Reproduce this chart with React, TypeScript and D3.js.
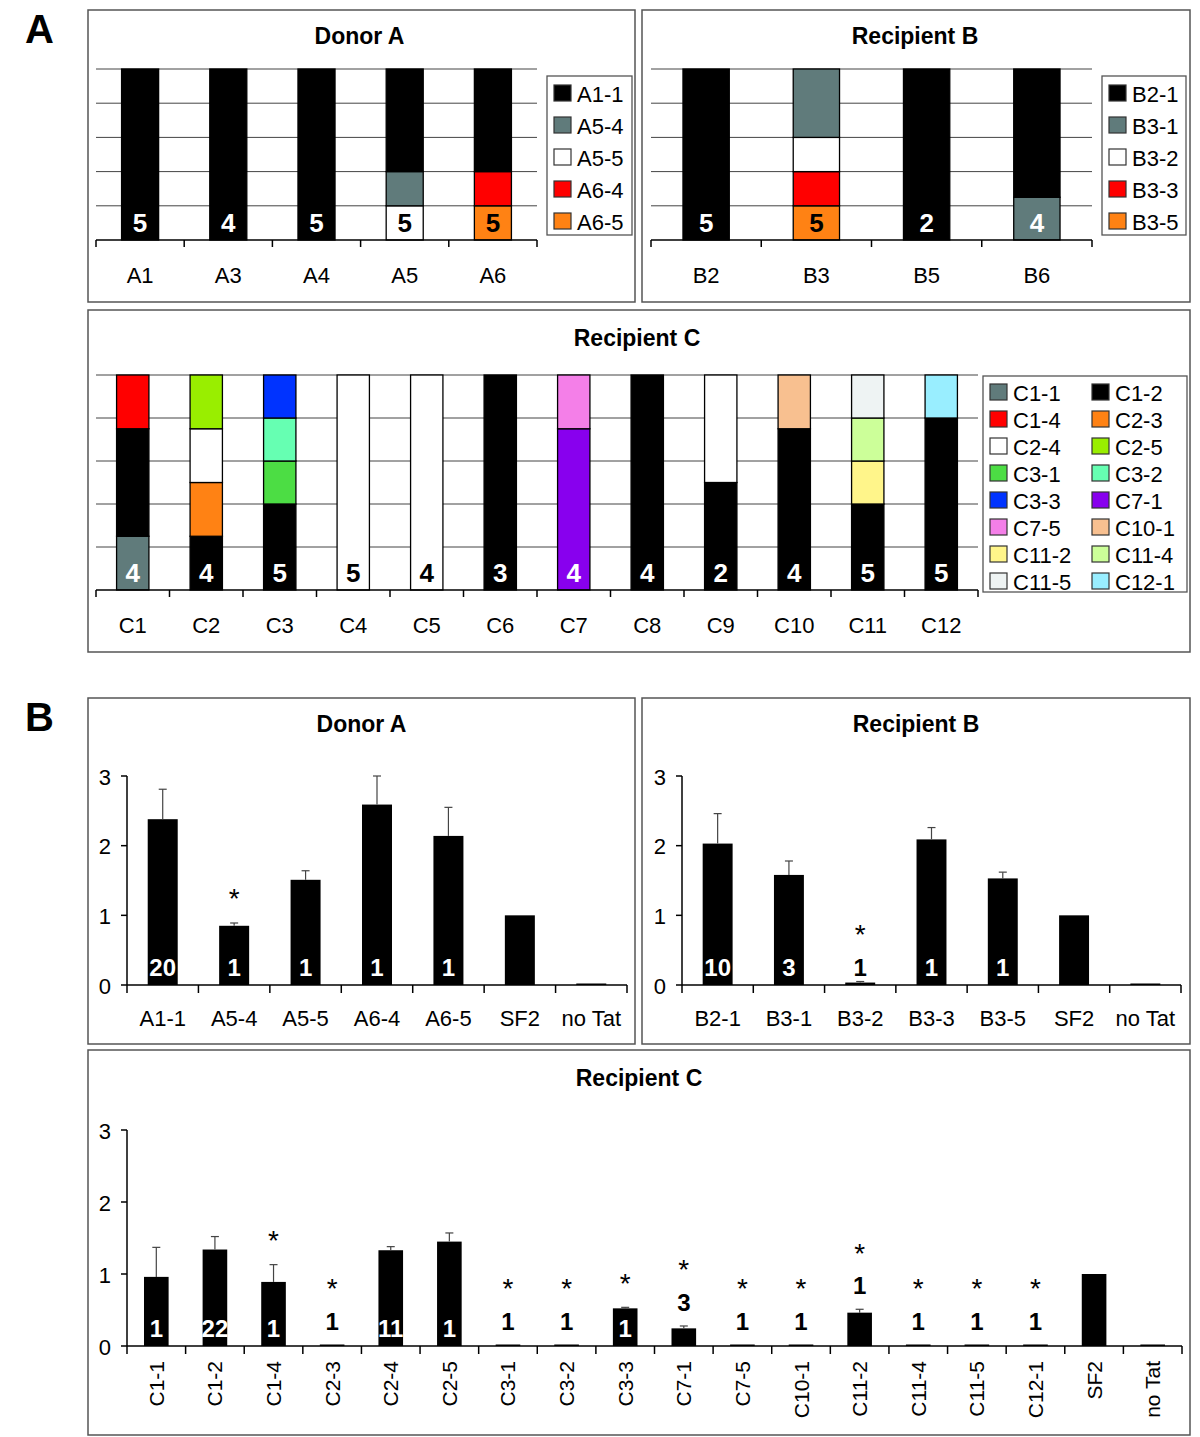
import React from "react";
import * as d3 from "d3";

const FONT = "'Liberation Sans', Arial, Helvetica, sans-serif";

// ---------- Panel A: clone make-up of each sample ----------
const donorSamples = ["A1", "A3", "A4", "A5", "A6"];
const donorClones = ["A1-1", "A5-4", "A5-5", "A6-4", "A6-5"];
// rows = clones, columns = samples
const donorCloneCounts = [
  [5, 4, 5, 3, 3],
  [0, 0, 0, 1, 0],
  [0, 0, 0, 1, 0],
  [0, 0, 0, 0, 1],
  [0, 0, 0, 0, 1],
];
const donorCloneColors = ["#000000", "#607b7b", "#ffffff", "#ff0000", "#ff8214"];

const recBSamples = ["B2", "B3", "B5", "B6"];
const recBClones = ["B2-1", "B3-1", "B3-2", "B3-3", "B3-5"];
const recBCloneCounts = [
  [5, 0, 2, 3],
  [0, 2, 0, 1],
  [0, 1, 0, 0],
  [0, 1, 0, 0],
  [0, 1, 0, 0],
];
const recBCloneColors = ["#000000", "#607b7b", "#ffffff", "#ff0000", "#ff8214"];

const recCSamples = ["C1", "C2", "C3", "C4", "C5", "C6", "C7", "C8", "C9", "C10", "C11", "C12"];
const recCClones = [
  "C1-1", "C1-2", "C1-4", "C2-3", "C2-4", "C2-5", "C3-1", "C3-2",
  "C3-3", "C7-1", "C7-5", "C10-1", "C11-2", "C11-4", "C11-5", "C12-1",
];
const recCCloneCounts = [
  // C1 C2 C3 C4 C5 C6 C7 C8 C9 C10 C11 C12
  [1, 0, 0, 0, 0, 0, 0, 0, 0, 0, 0, 0], // C1-1
  [2, 1, 2, 0, 0, 3, 0, 4, 1, 3, 2, 4], // C1-2
  [1, 0, 0, 0, 0, 0, 0, 0, 0, 0, 0, 0], // C1-4
  [0, 1, 0, 0, 0, 0, 0, 0, 0, 0, 0, 0], // C2-3
  [0, 1, 0, 5, 4, 0, 0, 0, 1, 0, 0, 0], // C2-4
  [0, 1, 0, 0, 0, 0, 0, 0, 0, 0, 0, 0], // C2-5
  [0, 0, 1, 0, 0, 0, 0, 0, 0, 0, 0, 0], // C3-1
  [0, 0, 1, 0, 0, 0, 0, 0, 0, 0, 0, 0], // C3-2
  [0, 0, 1, 0, 0, 0, 0, 0, 0, 0, 0, 0], // C3-3
  [0, 0, 0, 0, 0, 0, 3, 0, 0, 0, 0, 0], // C7-1
  [0, 0, 0, 0, 0, 0, 1, 0, 0, 0, 0, 0], // C7-5
  [0, 0, 0, 0, 0, 0, 0, 0, 0, 1, 0, 0], // C10-1
  [0, 0, 0, 0, 0, 0, 0, 0, 0, 0, 1, 0], // C11-2
  [0, 0, 0, 0, 0, 0, 0, 0, 0, 0, 1, 0], // C11-4
  [0, 0, 0, 0, 0, 0, 0, 0, 0, 0, 1, 0], // C11-5
  [0, 0, 0, 0, 0, 0, 0, 0, 0, 0, 0, 1], // C12-1
];
const recCCloneColors = [
  "#607b7b", "#000000", "#ff0000", "#ff8214", "#ffffff", "#99ee00", "#4cdd44", "#66ffb2",
  "#0033ff", "#8800ee", "#f47fe8", "#f8c090", "#fff58a", "#ccff99", "#eef3f3", "#99eeff",
];

// ---------- Panel B: relative Tat activity ----------
const donorVariants = ["A1-1", "A5-4", "A5-5", "A6-4", "A6-5", "SF2", "no Tat"];
const donorActivity = [2.38, 0.85, 1.51, 2.59, 2.14, 1.0, 0.012];
const donorActivityErr = [0.43, 0.04, 0.13, 0.41, 0.41, 0, 0];
const donorVariantN = [20, 1, 1, 1, 1, null, null];
const donorSignificant = [false, true, false, false, false, false, false];

const recBVariants = ["B2-1", "B3-1", "B3-2", "B3-3", "B3-5", "SF2", "no Tat"];
const recBActivity = [2.03, 1.58, 0.035, 2.09, 1.53, 1.0, 0.012];
const recBActivityErr = [0.43, 0.2, 0.015, 0.17, 0.09, 0, 0];
const recBVariantN = [10, 3, 1, 1, 1, null, null];
const recBSignificant = [false, false, true, false, false, false, false];

const recCVariants = [
  "C1-1", "C1-2", "C1-4", "C2-3", "C2-4", "C2-5", "C3-1", "C3-2", "C3-3",
  "C7-1", "C7-5", "C10-1", "C11-2", "C11-4", "C11-5", "C12-1", "SF2", "no Tat",
];
const recCActivity = [
  0.96, 1.34, 0.89, 0.02, 1.33, 1.45, 0.02, 0.014, 0.523,
  0.245, 0.02, 0.01, 0.463, 0.02, 0.01, 0.01, 1.0, 0.02,
];
const recCActivityErr = [
  0.41, 0.18, 0.24, 0, 0.05, 0.12, 0, 0, 0.014,
  0.033, 0, 0, 0.047, 0, 0, 0, 0, 0,
];
const recCVariantN = [1, 22, 1, 1, 11, 1, 1, 1, 1, 3, 1, 1, 1, 1, 1, 1, null, null];
const recCSignificant = [
  false, false, true, true, false, false, true, true, true,
  true, true, true, true, true, true, true, false, false,
];

const yTicks = [0, 1, 2, 3];

function Frame({ x, y, w, h }) {
  return <rect x={x} y={y} width={w} height={h} fill="#fff" stroke="#555" strokeWidth={1.5} />;
}

function StackPanel(p) {
  const { box, title, titleY, samples, clones, counts, colors, order, plot, legend } = p;
  const x = d3
    .scaleBand()
    .domain(samples)
    .range([plot.x0, plot.x1])
    .paddingInner(plot.pad)
    .paddingOuter(plot.pad / 2);
  const y = d3.scaleLinear().domain([0, 1]).range([plot.base, plot.top]);

  const rows = samples.map((s, i) => {
    const r = { sample: s };
    clones.forEach((c, k) => (r[c] = counts[k][i]));
    return r;
  });
  const keys = order.map((k) => clones[k]);
  const series = d3.stack().keys(keys).offset(d3.stackOffsetExpand)(rows);
  const totals = samples.map((_, i) => d3.sum(counts, (c) => c[i]));
  const step = x.step();
  const colorOf = (key) => colors[clones.indexOf(key)];

  const labelColor = (i) => {
    const bottom = keys.find((k) => rows[i][k] > 0);
    return d3.hsl(colorOf(bottom)).l < 0.5 ? "#fff" : "#000";
  };

  return (
    <g>
      <Frame x={box[0]} y={box[1]} w={box[2]} h={box[3]} />
      <text x={box[0] + box[2] / 2 + (p.titleDx || 0)} y={titleY} textAnchor="middle" fontWeight="bold" fontSize={23}>
        {title}
      </text>
      {y.ticks(5).filter((t) => t > 0).map((t) => (
        <line key={t} x1={plot.x0} x2={plot.x1} y1={y(t)} y2={y(t)} stroke="#444" strokeWidth={1} />
      ))}
      {series.map((s) =>
        s.map((d, i) =>
          d[1] - d[0] > 0 ? (
            <rect
              key={s.key + i}
              x={x(samples[i])}
              y={y(d[1])}
              width={x.bandwidth()}
              height={y(d[0]) - y(d[1])}
              fill={colorOf(s.key)}
              stroke="#000"
              strokeWidth={1.3}
            />
          ) : null
        )
      )}
      <line x1={plot.x0} x2={plot.x1} y1={plot.base} y2={plot.base} stroke="#000" strokeWidth={1.5} />
      {d3.range(samples.length + 1).map((i) => (
        <line key={i} x1={plot.x0 + i * step} x2={plot.x0 + i * step} y1={plot.base} y2={plot.base + 7} stroke="#000" strokeWidth={1.5} />
      ))}
      {samples.map((s, i) => (
        <text key={s} x={x(s) + x.bandwidth() / 2} y={plot.base - 8} textAnchor="middle" fontWeight="bold" fontSize={26} fill={labelColor(i)}>
          {totals[i]}
        </text>
      ))}
      {samples.map((s) => (
        <text key={s} x={x(s) + x.bandwidth() / 2} y={plot.base + 43} textAnchor="middle" fontSize={22}>
          {s}
        </text>
      ))}
      <rect x={legend.x} y={legend.y} width={legend.w} height={legend.h} fill="#fff" stroke="#555" strokeWidth={1.3} />
      {clones.map((c, k) => {
        const col = k % legend.cols;
        const row = Math.floor(k / legend.cols);
        const cx = legend.x + 7 + col * legend.colW;
        const cy = legend.y + legend.rowTop + row * legend.rowH;
        return (
          <g key={c}>
            <rect x={cx} y={cy - 8} width={17} height={16} fill={colors[k]} stroke="#333" strokeWidth={1.2} />
            <text x={cx + 23} y={cy + 1} dominantBaseline="central" fontSize={legend.font}>
              {c}
            </text>
          </g>
        );
      })}
    </g>
  );
}

function BarPanel(p) {
  const { box, title, titleY, names, values, errs, ns, sig, x0, x1, base, top, rotate, outGap, inOffset } = p;
  const x = d3.scaleBand().domain(names).range([x0, x1]).paddingInner(0.58).paddingOuter(0.29);
  const y = d3.scaleLinear().domain([0, 3]).range([base, top]);
  const step = x.step();
  const starSize = 28;

  return (
    <g>
      <Frame x={box[0]} y={box[1]} w={box[2]} h={box[3]} />
      <text x={box[0] + box[2] / 2} y={titleY} textAnchor="middle" fontWeight="bold" fontSize={23}>
        {title}
      </text>
      {names.map((n, i) => {
        const bx = x(n);
        const bw = x.bandwidth();
        const cx = bx + bw / 2;
        const v = values[i];
        const yTop = Math.min(y(v), base - 1.5);
        const errTop = y(v + errs[i]);
        const highest = Math.min(yTop, errTop);
        const inside = v >= 0.5;
        let labelBase = base - inOffset;
        let markTop = highest;
        if (ns[i] != null && !inside) {
          labelBase = Math.min(base - inOffset, highest - outGap);
          markTop = labelBase - 17;
        }
        return (
          <g key={n}>
            <rect x={bx} y={yTop} width={bw} height={base - yTop} fill="#000" />
            {errs[i] > 0 ? (
              <g stroke="#444" strokeWidth={1.2}>
                <line x1={cx} x2={cx} y1={yTop} y2={errTop} />
                <line x1={cx - 4} x2={cx + 4} y1={errTop} y2={errTop} />
              </g>
            ) : null}
            {ns[i] != null ? (
              <text x={cx} y={labelBase} textAnchor="middle" fontWeight="bold" fontSize={24} fill={inside ? "#fff" : "#000"}>
                {ns[i]}
              </text>
            ) : null}
            {sig[i] ? (
              <text x={cx} y={markTop - 30 + starSize * 0.55} textAnchor="middle" fontSize={starSize}>
                *
              </text>
            ) : null}
          </g>
        );
      })}
      <line x1={x0} x2={x0} y1={top} y2={base} stroke="#000" strokeWidth={1.5} />
      {yTicks.map((t) => (
        <g key={t}>
          <line x1={x0 - 6} x2={x0} y1={y(t)} y2={y(t)} stroke="#000" strokeWidth={1.5} />
          <text x={x0 - 16} y={y(t) + 1} textAnchor="end" dominantBaseline="central" fontSize={22}>
            {t}
          </text>
        </g>
      ))}
      <line x1={x0} x2={x1} y1={base} y2={base} stroke="#000" strokeWidth={1.5} />
      {d3.range(names.length + 1).map((i) => (
        <line key={i} x1={x0 + i * step} x2={x0 + i * step} y1={base} y2={base + 8} stroke="#000" strokeWidth={1.5} />
      ))}
      {names.map((n) =>
        rotate ? (
          <text
            key={n}
            transform={`translate(${x(n) + x.bandwidth() / 2},${base + 15}) rotate(-90)`}
            textAnchor="end"
            dominantBaseline="central"
            fontSize={21}
          >
            {n}
          </text>
        ) : (
          <text key={n} x={x(n) + x.bandwidth() / 2} y={base + 41} textAnchor="middle" fontSize={22}>
            {n}
          </text>
        )
      )}
    </g>
  );
}

export default function App() {
  const rev = (n) => d3.range(n).reverse();
  return (
    <svg
      width={1200}
      height={1437}
      viewBox="0 0 1200 1437"
      style={{ position: "absolute", left: 0, top: 0, background: "#fff", fontFamily: FONT }}
      fontFamily={FONT}
    >
      <rect width={1200} height={1437} fill="#fff" />
      <text x={25} y={43} fontSize={40} fontWeight="bold">A</text>
      <text x={25} y={731} fontSize={40} fontWeight="bold">B</text>

      <StackPanel
        box={[88, 10, 547, 292]}
        title="Donor A"
        titleY={44}
        titleDx={-2}
        samples={donorSamples}
        clones={donorClones}
        counts={donorCloneCounts}
        colors={donorCloneColors}
        order={rev(donorClones.length)}
        plot={{ x0: 96, x1: 537, top: 69, base: 240, pad: 0.58 }}
        legend={{ x: 547, y: 76, w: 85, h: 159, cols: 1, rowH: 32, colW: 0, rowTop: 17, font: 22 }}
      />
      <StackPanel
        box={[642, 10, 548, 292]}
        title="Recipient B"
        titleY={44}
        titleDx={-1}
        samples={recBSamples}
        clones={recBClones}
        counts={recBCloneCounts}
        colors={recBCloneColors}
        order={rev(recBClones.length)}
        plot={{ x0: 651, x1: 1092, top: 69, base: 240, pad: 0.58 }}
        legend={{ x: 1102, y: 76, w: 84, h: 159, cols: 1, rowH: 32, colW: 0, rowTop: 17, font: 22 }}
      />
      <StackPanel
        box={[88, 310, 1102, 342]}
        title="Recipient C"
        titleY={346}
        titleDx={-2}
        samples={recCSamples}
        clones={recCClones}
        counts={recCCloneCounts}
        colors={recCCloneColors}
        order={d3.range(recCClones.length)}
        plot={{ x0: 96, x1: 978, top: 375, base: 590, pad: 0.56 }}
        legend={{ x: 983, y: 376, w: 204, h: 216, cols: 2, rowH: 27, colW: 102, rowTop: 16, font: 22 }}
      />

      <BarPanel
        box={[88, 698, 547, 346]}
        title="Donor A"
        titleY={732}
        names={donorVariants}
        values={donorActivity}
        errs={donorActivityErr}
        ns={donorVariantN}
        sig={donorSignificant}
        x0={127}
        x1={627}
        base={985}
        top={776}
        rotate={false}
        outGap={5}
        inOffset={9}
      />
      <BarPanel
        box={[642, 698, 548, 346]}
        title="Recipient B"
        titleY={732}
        names={recBVariants}
        values={recBActivity}
        errs={recBActivityErr}
        ns={recBVariantN}
        sig={recBSignificant}
        x0={682}
        x1={1181}
        base={985}
        top={776}
        rotate={false}
        outGap={5}
        inOffset={9}
      />
      <BarPanel
        box={[88, 1050, 1102, 385]}
        title="Recipient C"
        titleY={1086}
        names={recCVariants}
        values={recCActivity}
        errs={recCActivityErr}
        ns={recCVariantN}
        sig={recCSignificant}
        x0={127}
        x1={1182}
        base={1346}
        top={1130}
        rotate={true}
        outGap={15}
        inOffset={9}
      />
    </svg>
  );
}
